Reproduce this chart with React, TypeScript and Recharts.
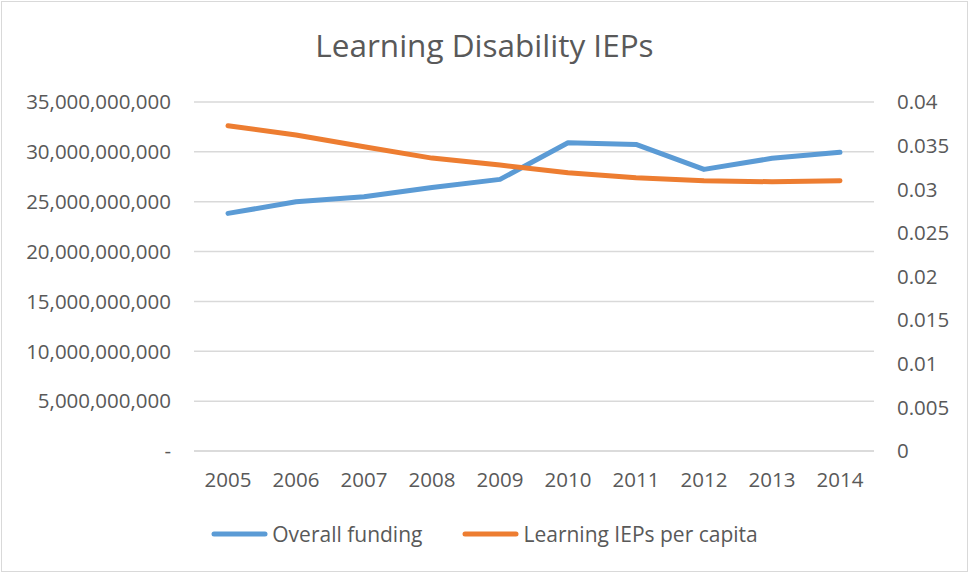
import { LineChart, Line, XAxis, YAxis, CartesianGrid, Legend } from 'recharts'

const years = ['2005', '2006', '2007', '2008', '2009', '2010', '2011', '2012', '2013', '2014']
const overallFunding = [
  23.83e9, 24.99e9, 25.49e9, 26.42e9, 27.24e9, 30.91e9, 30.75e9, 28.24e9, 29.35e9, 29.95e9,
]
const iepsPerCapita = [
  0.03728, 0.03621, 0.03487, 0.03357, 0.03277, 0.03189, 0.03131, 0.03097, 0.03086, 0.03097,
]
const leftTicks = [0, 5e9, 10e9, 15e9, 20e9, 25e9, 30e9, 35e9]
const rightTicks = [0, 0.005, 0.01, 0.015, 0.02, 0.025, 0.03, 0.035, 0.04]

const data = years.map((year, i) => ({
  year,
  funding: overallFunding[i],
  perCapita: iepsPerCapita[i],
}))

const FONT = '"Open Sans", sans-serif'
const TEXT = '#595959'
const BLUE = '#5b9bd5'
const ORANGE = '#ed7d31'
const GRID = '#d9d9d9'

const fmtLeft = (v: number) => (v === 0 ? '-' : v.toLocaleString('en-US'))

function LegendContent() {
  const items = [
    { label: 'Overall funding', color: BLUE },
    { label: 'Learning IEPs per capita', color: ORANGE },
  ]
  return (
    <div style={{ display: 'flex', justifyContent: 'center', gap: 40, fontFamily: FONT }}>
      {items.map((it) => (
        <div key={it.label} style={{ display: 'flex', alignItems: 'center' }}>
          <svg width={57} height={8} style={{ marginRight: 4 }}>
            <line x1={3} y1={4} x2={54} y2={4} stroke={it.color} strokeWidth={5} strokeLinecap="round" />
          </svg>
          <span style={{ fontSize: 21, color: TEXT }}>{it.label}</span>
        </div>
      ))}
    </div>
  )
}

export default function App() {
  return (
    <div style={{ position: 'absolute', left: 0, top: 0, width: 969, height: 573, background: '#fff' }}>
      <div
        style={{
          position: 'absolute',
          left: 1,
          top: 1,
          width: 965,
          height: 569,
          border: `1px solid ${GRID}`,
        }}
      />
      <div
        style={{
          position: 'absolute',
          left: 0,
          top: 23,
          width: 969,
          textAlign: 'center',
          fontFamily: FONT,
          fontSize: 31.5,
          color: TEXT,
        }}
      >
        Learning Disability IEPs
      </div>
      <LineChart width={969} height={573} data={data} margin={{ top: 102, right: 0, left: 0, bottom: 0 }}>
        <CartesianGrid yAxisId="left" vertical={false} stroke={GRID} strokeWidth={1.5} />
        <XAxis
          dataKey="year"
          height={122}
          padding={{ left: 34, right: 34 }}
          tickLine={false}
          tickSize={0}
          tickMargin={21}
          axisLine={{ stroke: GRID, strokeWidth: 1.5 }}
          tick={{ fill: TEXT, fontSize: 20.5, fontFamily: FONT }}
        />
        <YAxis
          yAxisId="left"
          width={194}
          domain={[0, 35e9]}
          ticks={leftTicks}
          tickFormatter={fmtLeft}
          axisLine={false}
          tickLine={false}
          tickSize={0}
          tickMargin={23}
          tick={{ fill: TEXT, fontSize: 20.5, fontFamily: FONT }}
        />
        <YAxis
          yAxisId="right"
          orientation="right"
          width={95}
          domain={[0, 0.04]}
          ticks={rightTicks}
          axisLine={false}
          tickLine={false}
          tickSize={0}
          tickMargin={23}
          tick={{ fill: TEXT, fontSize: 20.5, fontFamily: FONT, textAnchor: 'start' }}
        />
        <Line
          yAxisId="left"
          type="linear"
          dataKey="funding"
          name="Overall funding"
          stroke={BLUE}
          strokeWidth={5}
          strokeLinecap="round"
          strokeLinejoin="round"
          dot={false}
          activeDot={false}
          isAnimationActive={false}
        />
        <Line
          yAxisId="right"
          type="linear"
          dataKey="perCapita"
          name="Learning IEPs per capita"
          stroke={ORANGE}
          strokeWidth={5}
          strokeLinecap="round"
          strokeLinejoin="round"
          dot={false}
          activeDot={false}
          isAnimationActive={false}
        />
        <Legend
          layout="horizontal"
          verticalAlign="middle"
          align="center"
          content={<LegendContent />}
          wrapperStyle={{ top: 520, left: 0, width: 969 }}
        />
      </LineChart>
    </div>
  )
}
